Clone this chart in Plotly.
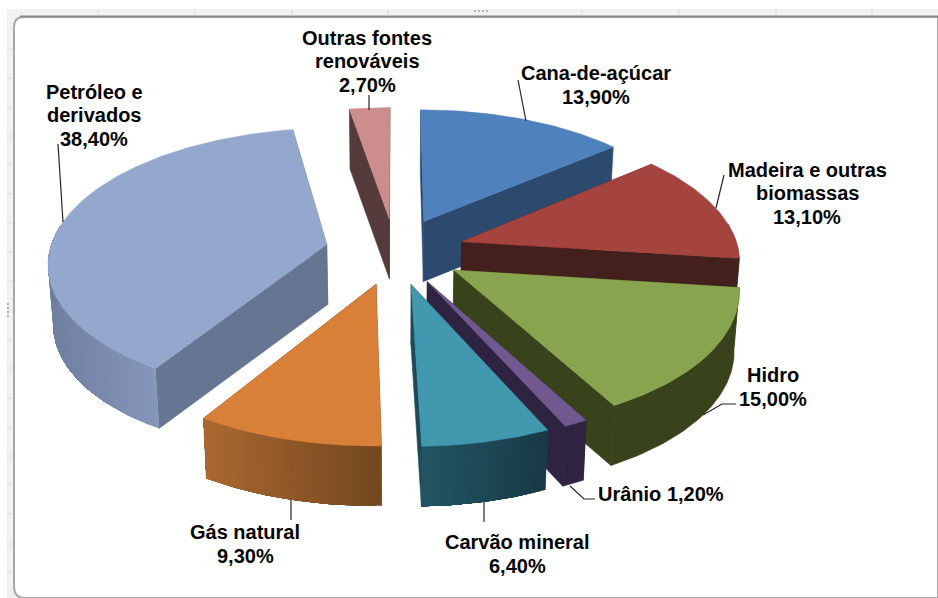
import math
import plotly.graph_objects as go

# ---- data ----
names = ["Cana-de-açúcar", "Madeira e outras<br>biomassas", "Hidro", "Urânio", "Carvão mineral",
         "Gás natural", "Petróleo e<br>derivados", "Outras fontes<br>renováveis"]
values = [13.9, 13.1, 15.0, 1.2, 6.4, 9.3, 38.4, 2.7]

# ---- styling ----
top_colors = ["#4F81BD", "#A5443F", "#88A44F", "#71588F", "#4198AF", "#D98038", "#94A7CC", "#CC8D8C"]
wall_left = ["#2C4A6E", "#44201C", "#38421B", "#2E2340", "#235664", "#AB6830", "#6F7F9F", "#553B3B"]
wall_right = ["#2C4A6E", "#44201C", "#38421B", "#2E2340", "#183A46", "#744820", "#8496BA", "#553B3B"]
radial_colors = ["#2C4A6E", "#44201C", "#38421B", "#2E2340", "#1E4A57", "#744820", "#667591", "#553B3B"]
label_centers = [(596, 85), (807, 193), (773, 387), (661, 494), (517, 554), (245, 544), (94, 115), (367, 61)]
one_line = {3}
LINE_GAP = 23.5
leaders = [
    [(518, 80), (526, 121)],
    [(724, 175), (716, 208)],
    [(736, 404), (722, 404), (703, 415)],
    [(595, 499), (584, 499), (570, 486)],
    [(484, 502), (484, 522)],
    [(291, 500), (291, 520)],
    [(58, 144), (63, 222)],
    [(369, 95), (369, 110)],
]
draw_order = [7, 0, 6, 1, 2, 3, 4, 5]

CX, CY, R, EXPLODE, TILT, DIST, DEPTH = 395, 251, 277, 70, 0.478, 2222, 60


def project(th, r, off_th, bottom=False):
    X = r * math.sin(th) + EXPLODE * math.sin(off_th)
    Y = r * math.cos(th) + EXPLODE * math.cos(off_th)
    s = DIST / (DIST + Y)
    x = CX + X * s
    y = CY - Y * TILT * s
    if bottom:
        x = CX + (x - CX) * 0.985
        y += DEPTH
    return x, y


def lerp_color(a, b, t):
    ca = [int(a[i:i + 2], 16) for i in (1, 3, 5)]
    cb = [int(b[i:i + 2], 16) for i in (1, 3, 5)]
    return "#%02x%02x%02x" % tuple(round(p + (q - p) * t) for p, q in zip(ca, cb))


def poly(fig, pts, color, lw=0.6):
    xs = [p[0] for p in pts] + [pts[0][0]]
    ys = [p[1] for p in pts] + [pts[0][1]]
    fig.add_trace(go.Scatter(x=xs, y=ys, mode="lines", fill="toself", fillcolor=color,
                             line=dict(color=color, width=lw), hoverinfo="skip", showlegend=False))


fig = go.Figure()
total = sum(values)
starts = [sum(values[:i]) / total * 2 * math.pi for i in range(len(values))]

for i in draw_order:
    a0 = starts[i]
    a1 = a0 + values[i] / total * 2 * math.pi
    mid = (a0 + a1) / 2
    n = max(2, int((a1 - a0) / math.radians(1)))
    ths = [a0 + (a1 - a0) * k / n for k in range(n + 1)]
    for th in (a0, a1):
        poly(fig, [project(th, 0, mid), project(th, R, mid), project(th, R, mid, True), project(th, 0, mid, True)],
             radial_colors[i])
    front = [t for t in ths if math.cos(t) <= 0.15]
    if len(front) >= 2:
        if wall_left[i] == wall_right[i]:
            poly(fig, [project(t, R, mid) for t in front] + [project(t, R, mid, True) for t in reversed(front)],
                 wall_left[i])
        else:
            # each band runs on to the end of the wall; the next band paints over it, leaving no seams
            xs_f = [project(t, R, mid)[0] for t in front]
            xmin, xmax = min(xs_f), max(xs_f)
            for k in range(len(front) - 1):
                rest = front[k:]
                f = (xs_f[k] - xmin) / max(1, xmax - xmin)
                poly(fig, [project(t, R, mid) for t in rest] + [project(t, R, mid, True) for t in reversed(rest)],
                     lerp_color(wall_left[i], wall_right[i], f), lw=0)
    poly(fig, [project(a0, 0, mid)] + [project(t, R, mid) for t in ths], top_colors[i])

for seg in leaders:
    fig.add_trace(go.Scatter(x=[p[0] for p in seg], y=[p[1] for p in seg], mode="lines",
                             line=dict(color="#262626", width=1.2), hoverinfo="skip", showlegend=False))

for i, (nm, v) in enumerate(zip(names, values)):
    val = f"{v:.2f}".replace(".", ",") + "%"
    lines = [f"{nm} {val}"] if i in one_line else nm.split("<br>") + [val]
    for j, line in enumerate(lines):
        fig.add_annotation(x=label_centers[i][0], y=label_centers[i][1] + (j - (len(lines) - 1) / 2) * LINE_GAP,
                           text=f"<b>{line}</b>", showarrow=False,
                           font=dict(family="Liberation Sans, Arial, sans-serif", size=20, color="#050505"),
                           xanchor="center", yanchor="middle")

shapes = [
    dict(type="rect", x0=7, x1=938, y0=9, y1=598, fillcolor="#F1F1F1", line=dict(width=0), layer="below"),
    dict(type="path", path="M 24 598 Q 14 598 14 586 L 14 27 Q 14 17 24 17 L 938 17 L 938 598 Z",
         fillcolor="white", line=dict(color="#A8A8A8", width=2), layer="below"),
    dict(type="line", x0=20, x1=938, y0=16.5, y1=16.5, line=dict(color="#8A8A8A", width=2), layer="below"),
]
for xv in (98, 195, 292, 388, 582, 679, 776, 872):
    shapes.append(dict(type="line", x0=xv, x1=xv, y0=9, y1=15, line=dict(color="#DADADA", width=1), layer="below"))
for yv in (49, 78, 107, 136, 165, 194, 223, 252, 281, 310, 339, 368, 398, 427, 456, 485, 514, 544, 573):
    shapes.append(dict(type="line", x0=7, x1=13, y0=yv, y1=yv, line=dict(color="#E0E0E0", width=1), layer="below"))
for xv in (474, 478, 482, 486):
    shapes.append(dict(type="rect", x0=xv, x1=xv + 2, y0=10, y1=12, fillcolor="#B5B5B5", line=dict(width=0), layer="below"))
for yv in (303, 307, 311, 315):
    shapes.append(dict(type="rect", x0=7, x1=9, y0=yv, y1=yv + 2, fillcolor="#B5B5B5", line=dict(width=0), layer="below"))

fig.update_layout(
    width=938, height=598, margin=dict(l=0, r=0, t=0, b=0), showlegend=False,
    paper_bgcolor="white", plot_bgcolor="white", shapes=shapes,
    xaxis=dict(range=[0, 938], visible=False, fixedrange=True),
    yaxis=dict(range=[598, 0], visible=False, fixedrange=True),
)
fig.write_html("out.html", config=dict(displayModeBar=False),
               post_script="document.body.style.margin='0';document.body.style.overflow='hidden';")
